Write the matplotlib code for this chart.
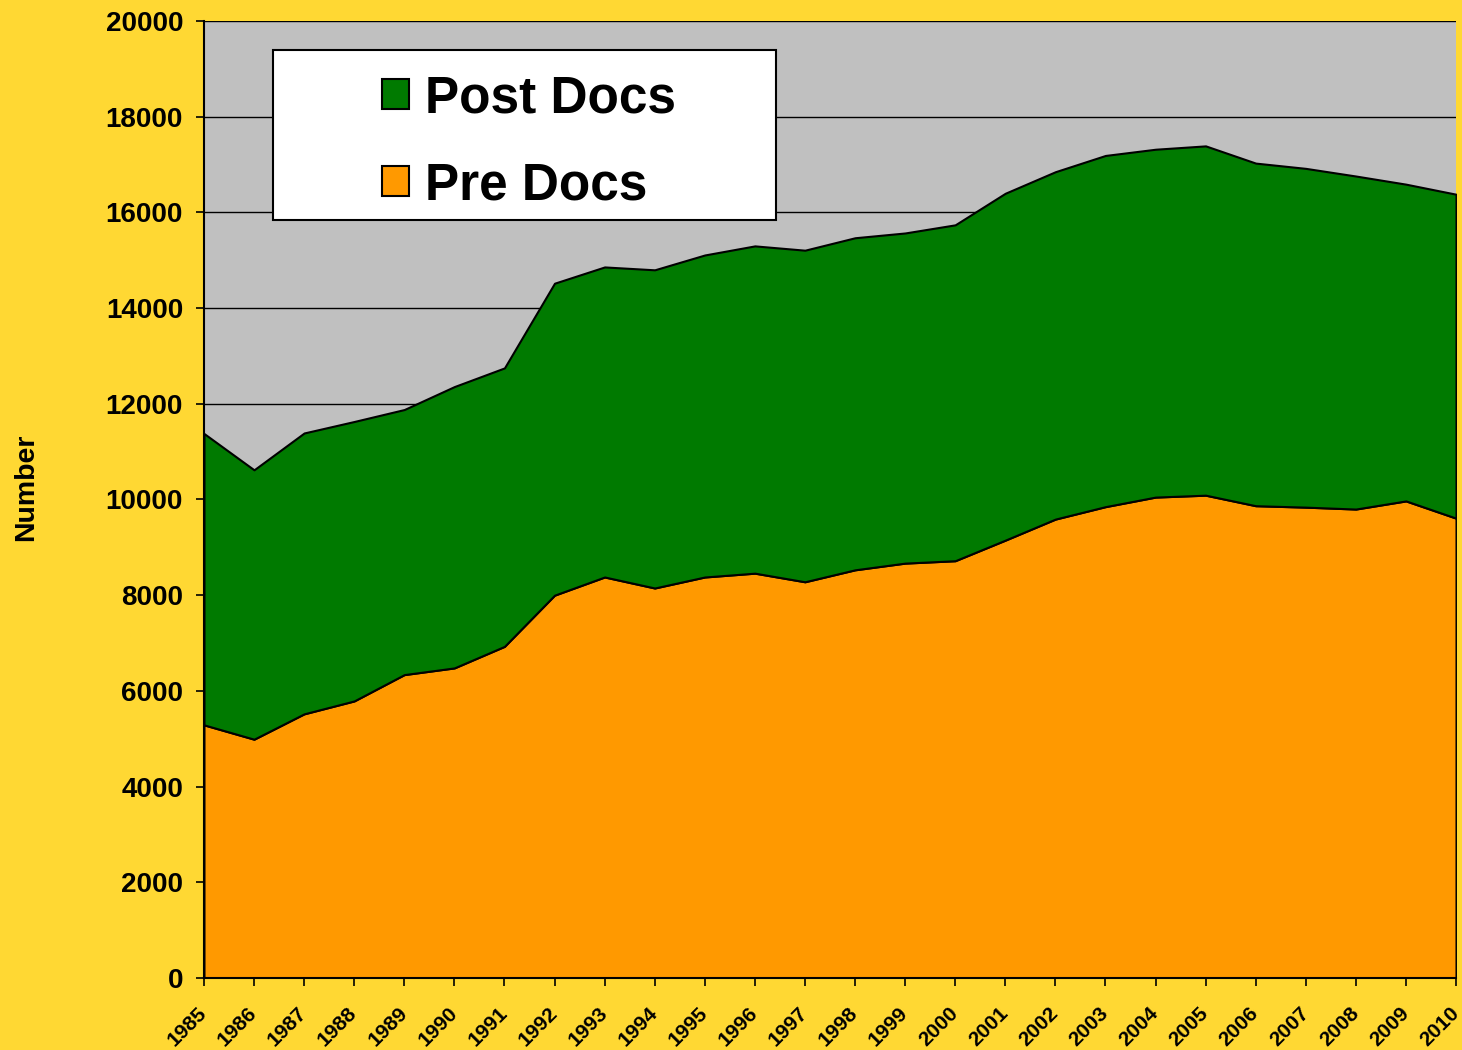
# Stacked area chart of pre-doc and post-doc trainee numbers, 1985-2010

import matplotlib.pyplot as plt
from matplotlib.patches import Rectangle

plt.rcParams["font.family"] = ["Liberation Sans", "DejaVu Sans"]
plt.rcParams["font.weight"] = "bold"

years = list(range(1985, 2011))

# values
pre_docs = [5290, 4990, 5520, 5790, 6340, 6480, 6930, 8000, 8380, 8150,
            8380, 8460, 8280, 8530, 8670, 8720, 9150, 9590, 9850, 10050,
            10090, 9870, 9840, 9800, 9970, 9610]
total = [11380, 10620, 11390, 11630, 11880, 12360, 12750, 14520, 14860, 14800,
         15110, 15300, 15210, 15470, 15570, 15740, 16400, 16850, 17190, 17320,
         17390, 17030, 16920, 16760, 16590, 16380]
post_docs = [t - p for t, p in zip(total, pre_docs)]

bg_color = "#FFD833"
plot_bg = "#C0C0C0"
pre_color = "#FF9900"
post_color = "#007A00"


def plot_chart():
    fig = plt.figure(figsize=(14.62, 10.5), dpi=100)
    fig.patch.set_facecolor(bg_color)
    ax = fig.add_axes([0.1395, 0.0686, 0.8564, 0.9114])
    ax.set_facecolor(plot_bg)

    # gridlines behind the areas
    ax.set_axisbelow(True)
    ax.yaxis.grid(True, color="k", linewidth=1.0)

    polys = ax.stackplot(
        years,
        pre_docs,
        post_docs,
        colors=[pre_color, post_color],
        edgecolor="k",
        linewidth=1.5,
        labels=["Pre Docs", "Post Docs"],
    )

    ax.set_xlim(1985, 2010)
    ax.set_ylim(0, 20000)
    ax.set_yticks(range(0, 20001, 2000))
    ax.set_xticks(years)
    ax.set_xticklabels([str(y) for y in years], rotation=45, ha="right",
                       va="center", rotation_mode="anchor", fontsize=15)
    ax.tick_params(axis="y", labelsize=20, length=6, width=1.2, pad=9)
    ax.tick_params(axis="x", length=6, width=1.2, pad=17)

    for side in ["top", "right"]:
        ax.spines[side].set_visible(False)
    for side in ["left", "bottom"]:
        ax.spines[side].set_linewidth(1.5)

    fig.text(0.018, 0.536, "Number", rotation=90, ha="center", va="center",
             fontsize=20.5, fontweight="bold")

    # legend box drawn separately so its size matches the original
    ax.add_patch(Rectangle((0.0551, 0.7921), 0.4018, 0.1776,
                           transform=ax.transAxes, facecolor="white",
                           edgecolor="k", linewidth=1.5, zorder=5))
    leg = ax.legend(
        [polys[1], polys[0]],
        ["Post Docs", "Pre Docs"],
        loc="center left",
        bbox_to_anchor=(0.1421, 0.8735),
        frameon=False,
        fontsize=37,
        handlelength=0.53,
        handleheight=0.53,
        handletextpad=0.31,
        labelspacing=0.74,
        borderaxespad=0,
        borderpad=0,
    )
    leg.set_zorder(6)

    fig.savefig("out.png", dpi=100, facecolor=bg_color)


if __name__ == "__main__":
    plot_chart()
